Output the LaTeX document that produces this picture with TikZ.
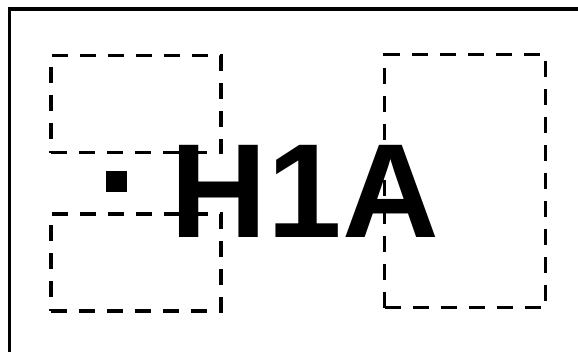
\documentclass[tikz,border=0pt]{standalone}
\usepackage{fontspec}
\setmainfont{Liberation Sans}
\begin{document}
\begin{tikzpicture}[x=1pt,y=-1pt,
  outer/.style={draw=black,line width=3.3pt,line join=miter},
  zone/.style={draw=black,line width=3.3pt,dash pattern=on 16pt off 12pt},
  dot/.style={fill=black,draw=none,minimum size=21pt,inner sep=0pt},
  label/.style={font=\fontsize{134}{134}\selectfont\bfseries,inner sep=0pt,anchor=base}]
\useasboundingbox (0,0) rectangle (578,351);
\draw[outer] (9.5,360) -- (9.5,9) -- (590,9);
\node[zone,draw,minimum width=170pt,minimum height=97pt,inner sep=0pt] (b1) at (136,104) {};
\node[zone,draw,minimum width=170pt,minimum height=97pt,inner sep=0pt] (b2) at (136,262.5) {};
\node[zone,draw,minimum width=161pt,minimum height=253pt,inner sep=0pt] (b3) at (465,181) {};
\node[dot] (sq) at (116.5,181.5) {};
\node[label] (t) at (305,237) {H1A};
\end{tikzpicture}
\end{document}
